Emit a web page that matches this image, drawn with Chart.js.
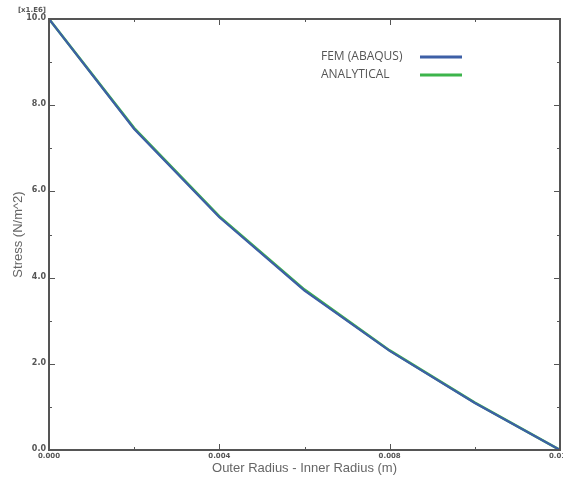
<!DOCTYPE html>
<html><head><meta charset="utf-8">
<script src="https://cdn.jsdelivr.net/npm/chart.js@4"></script>
<style>html,body{margin:0;padding:0;background:#fff;}#wrap{width:563px;height:479px;}</style>
</head><body><div id="wrap"><canvas id="c" width="563" height="479"></canvas></div>
<script>
const radiusDiff = [0.000, 0.002, 0.004, 0.006, 0.008, 0.010, 0.012];
const femStress = [10.0, 7.45, 5.40, 3.70, 2.30, 1.09, 0.0];
const analyticalStress = [10.0, 7.47, 5.42, 3.72, 2.31, 1.10, 0.0];
const xTickValues = [0.000, 0.004, 0.008, 0.012];
const xMinorTicks = [0.002, 0.006, 0.010];
const yTickValues = [0, 2, 4, 6, 8, 10];
const yMinorTicks = [1, 3, 5, 7, 9];
const seriesNames = ['FEM (ABAQUS)', 'ANALYTICAL'];
const seriesColors = ['#3d5fa6', '#3cb44b'];

const toPts = (xs, ys) => xs.map((x, i) => ({x: x, y: ys[i]}));

const decor = {
  id: 'decor',
  afterDatasetsDraw(chart) {
    const ctx = chart.ctx, a = chart.chartArea;
    const xs = chart.scales.x, ys = chart.scales.y;
    ctx.save();
    ctx.strokeStyle = '#555';
    ctx.lineWidth = 2;
    ctx.strokeRect(a.left, a.top, a.right - a.left, a.bottom - a.top);
    ctx.lineWidth = 1;
    ctx.beginPath();
    xTickValues.forEach(v => { const p = Math.round(xs.getPixelForValue(v)) + 0.5;
      ctx.moveTo(p, a.bottom); ctx.lineTo(p, a.bottom - 6);
      ctx.moveTo(p, a.top); ctx.lineTo(p, a.top + 6); });
    xMinorTicks.forEach(v => { const p = Math.round(xs.getPixelForValue(v)) + 0.5;
      ctx.moveTo(p, a.bottom); ctx.lineTo(p, a.bottom - 3);
      ctx.moveTo(p, a.top); ctx.lineTo(p, a.top + 3); });
    yTickValues.forEach(v => { const p = Math.round(ys.getPixelForValue(v)) + 0.5;
      ctx.moveTo(a.left, p); ctx.lineTo(a.left + 6, p);
      ctx.moveTo(a.right, p); ctx.lineTo(a.right - 6, p); });
    yMinorTicks.forEach(v => { const p = Math.round(ys.getPixelForValue(v)) + 0.5;
      ctx.moveTo(a.left, p); ctx.lineTo(a.left + 3, p);
      ctx.moveTo(a.right, p); ctx.lineTo(a.right - 3, p); });
    ctx.stroke();

    ctx.fillStyle = '#555';
    ctx.font = 'bold 8px "DejaVu Sans"';
    ctx.textAlign = 'right'; ctx.textBaseline = 'middle';
    yTickValues.forEach(v => ctx.fillText(v.toFixed(1), a.left - 3, ys.getPixelForValue(v) - 1));
    ctx.font = 'bold 7px "DejaVu Sans"';
    ctx.textAlign = 'center'; ctx.textBaseline = 'top';
    xTickValues.forEach(v => ctx.fillText(v.toFixed(3), xs.getPixelForValue(v), a.bottom + 3));
    ctx.textAlign = 'right'; ctx.textBaseline = 'middle';
    ctx.fillText('[x1.E6]', a.left - 3, a.top - 9);

    ctx.fillStyle = '#666';
    ctx.font = '13px "Liberation Sans"';
    ctx.textAlign = 'center'; ctx.textBaseline = 'middle';
    ctx.fillText('Outer Radius - Inner Radius (m)', (a.left + a.right) / 2, 468);
    ctx.save();
    ctx.translate(18, (a.top + a.bottom) / 2);
    ctx.rotate(-Math.PI / 2);
    ctx.fillText('Stress (N/m^2)', 0, 0);
    ctx.restore();

    ctx.font = '12px "Open Sans"';
    ctx.textAlign = 'left';
    chart.data.datasets.forEach((d, i) => {
      const yy = 57 + i * 18;
      ctx.fillStyle = '#555';
      ctx.fillText(d.label, 321, yy);
      ctx.strokeStyle = d.borderColor; ctx.lineWidth = 3;
      ctx.beginPath(); ctx.moveTo(420, yy); ctx.lineTo(462, yy); ctx.stroke();
    });
    ctx.restore();
  }
};

new Chart(document.getElementById('c'), {
  type: 'line',
  data: {
    datasets: [
      {label: seriesNames[0], data: toPts(radiusDiff, femStress), borderColor: seriesColors[0], borderWidth: 2.2, pointRadius: 0, tension: 0, fill: false},
      {label: seriesNames[1], data: toPts(radiusDiff, analyticalStress), borderColor: seriesColors[1], borderWidth: 2.6, pointRadius: 0, tension: 0, fill: false}
    ]
  },
  options: {
    responsive: false, animation: false,
    layout: {padding: {left: 49, right: 3, top: 19, bottom: 29}},
    plugins: {legend: {display: false}, tooltip: {enabled: false}},
    scales: {
      x: {type: 'linear', min: 0, max: 0.012, display: false},
      y: {type: 'linear', min: 0, max: 10, display: false}
    }
  },
  plugins: [decor]
});
</script></body></html>
